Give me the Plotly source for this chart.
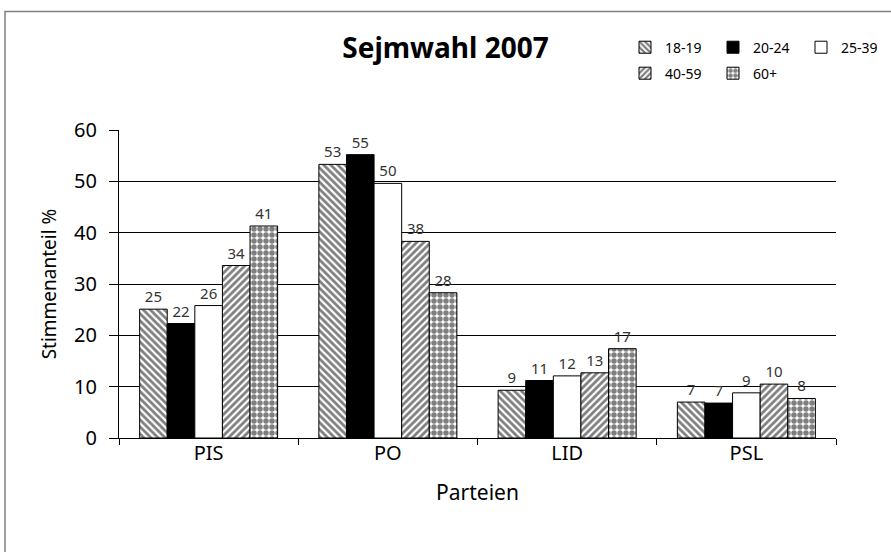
import plotly.graph_objects as go

parties = ["PIS", "PO", "LID", "PSL"]
age_groups = ["18-19", "20-24", "25-39", "40-59", "60+"]
v_18_19 = [25.1, 53.3, 9.3, 7.0]
v_20_24 = [22.3, 55.2, 11.2, 6.8]
v_25_39 = [25.8, 49.6, 12.1, 8.8]
v_40_59 = [33.6, 38.3, 12.7, 10.5]
v_60p = [41.3, 28.3, 17.4, 7.7]
labels_18_19 = ["25", "53", "9", "7"]
labels_20_24 = ["22", "55", "11", "7"]
labels_25_39 = ["26", "50", "12", "9"]
labels_40_59 = ["34", "38", "13", "10"]
labels_60p = ["41", "28", "17", "8"]

def pat(shape, size, solidity):
    return dict(shape=shape, fgcolor="black", bgcolor="white", size=size,
                solidity=solidity, fillmode="overlay")

series = [
    (age_groups[0], v_18_19, labels_18_19, dict(color="white", pattern=pat("\\", 5, 0.55)), "legend"),
    (age_groups[1], v_20_24, labels_20_24, dict(color="black"), "legend"),
    (age_groups[2], v_25_39, labels_25_39, dict(color="white"), "legend"),
    (age_groups[3], v_40_59, labels_40_59, dict(color="white", pattern=pat("/", 5, 0.55)), "legend2"),
    (age_groups[4], v_60p, labels_60p, dict(color="white", pattern=pat(".", 6, 0.65)), "legend2"),
]

FONT = "Noto Sans"
fig = go.Figure()
for name, vals, labs, marker, lg in series:
    m = dict(marker)
    m["line"] = dict(color="black", width=1)
    fig.add_trace(go.Bar(
        name=name, x=parties, y=vals, marker=m,
        text=labs, textposition="outside", cliponaxis=False,
        textfont=dict(family=FONT, size=15, color="#333"),
        legend=lg,
    ))

L, T = 119, 129.5
PW, PH = 717, 308.5
B = T + PH
fig.update_layout(
    width=891, height=552,
    margin=dict(l=L, r=891 - L - PW, t=T, b=552 - B, autoexpand=False),
    paper_bgcolor="white", plot_bgcolor="white",
    barmode="group", bargap=0.23, bargroupgap=0,
    title=dict(text="Sejmwahl 2007", x=0.5, xanchor="center", y=1 - 48 / 552, yanchor="middle",
               font=dict(family=FONT, size=28, color="black", weight="bold")),
    font=dict(family=FONT, color="black"),
    legend=dict(orientation="h", x=(625 - L) / PW, y=(B - 47) / PH, xanchor="left", yanchor="middle",
                font=dict(family=FONT, size=14), entrywidth=43, itemwidth=30,
                bgcolor="rgba(0,0,0,0)", traceorder="normal"),
    legend2=dict(orientation="h", x=(625 - L) / PW, y=(B - 73) / PH, xanchor="left", yanchor="middle",
                 font=dict(family=FONT, size=14), entrywidth=43, itemwidth=30,
                 bgcolor="rgba(0,0,0,0)", traceorder="normal"),
    xaxis=dict(title=dict(text="Parteien", font=dict(family=FONT, size=21), standoff=20),
               tickfont=dict(family=FONT, size=20), ticklabelstandoff=-3,
               showline=True, linecolor="black", linewidth=1,
               ticks="outside", ticklen=6, tickcolor="black", tickson="boundaries"),
    yaxis=dict(title=dict(text="Stimmenanteil %", font=dict(family=FONT, size=19), standoff=12),
               tickfont=dict(family=FONT, size=20), ticklabelstandoff=8,
               range=[0, 60], dtick=10,
               showline=True, linecolor="black", linewidth=1,
               showgrid=True, gridcolor="black", gridwidth=1,
               ticks="outside", ticklen=9, tickcolor="black", zeroline=False),
    shapes=[dict(type="rect", xref="paper", yref="paper",
                 x0=(5 - L) / PW, x1=(900 - L) / PW,
                 y0=(B - 560) / PH, y1=(B - 10.7) / PH,
                 line=dict(color="#808080", width=1.5), fillcolor="rgba(0,0,0,0)", layer="below")],
)

fig.write_html("out.html", config={"displayModeBar": False},
               post_script="document.body.style.margin='0';")
